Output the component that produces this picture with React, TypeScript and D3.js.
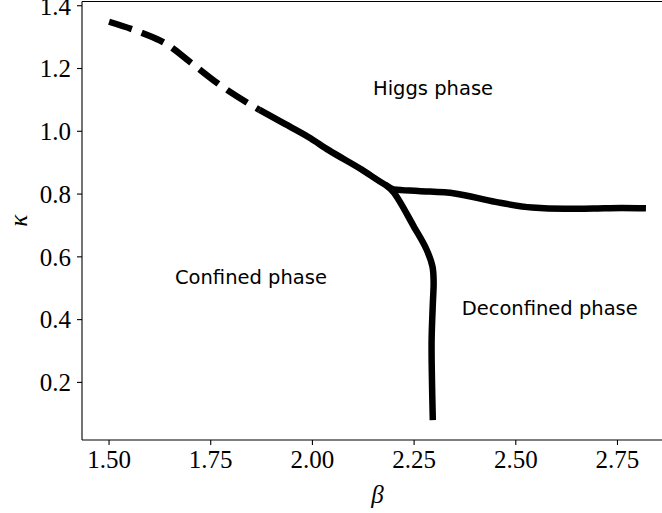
import * as d3 from "d3";

// phase boundary
const dashedBeta = [1.5, 1.58, 1.64, 1.7, 1.77, 1.84, 1.87];
const dashedKappa = [1.349, 1.314, 1.279, 1.22, 1.15, 1.091, 1.068];

const upperBeta = [1.87, 1.93, 1.99, 2.04, 2.12, 2.18, 2.2, 2.26, 2.35, 2.45, 2.54, 2.62, 2.69, 2.76, 2.82];
const upperKappa = [1.068, 1.025, 0.982, 0.94, 0.879, 0.829, 0.815, 0.81, 0.802, 0.775, 0.757, 0.753, 0.754, 0.756, 0.755];

const verticalBeta = [2.18, 2.2, 2.25, 2.28, 2.295, 2.298, 2.296, 2.293, 2.294, 2.296];
const verticalKappa = [0.829, 0.805, 0.695, 0.625, 0.57, 0.52, 0.45, 0.33, 0.2, 0.08];

const xTicks = [1.5, 1.75, 2.0, 2.25, 2.5, 2.75];
const yTicks = [0.2, 0.4, 0.6, 0.8, 1.0, 1.2, 1.4];

const phaseLabels = ["Higgs phase", "Confined phase", "Deconfined phase"];
const labelBeta = [2.149, 1.662, 2.367];
const labelKappa = [1.115, 0.513, 0.414];

export default function App() {
  const width = 662;
  const height = 513;
  const left = 82;
  const right = 673;
  const top = 1.5;
  const bottom = 440;

  const x = d3.scaleLinear([1.4335, 2.8865], [left, right]);
  const y = d3.scaleLinear([0.0165, 1.4135], [bottom, top]);

  const smoothX = d3
    .line<[number, number]>()
    .x((d) => x(d[0]))
    .y((d) => y(d[1]))
    .curve(d3.curveMonotoneX);

  const smooth = d3
    .line<[number, number]>()
    .x((d) => x(d[0]))
    .y((d) => y(d[1]))
    .curve(d3.curveCatmullRom.alpha(0.5));

  const zip = (a: number[], b: number[]) => a.map((v, i) => [v, b[i]] as [number, number]);

  const serif = "'Liberation Serif', 'DejaVu Serif', serif";
  const sans = "'DejaVu Sans', sans-serif";
  const lw = 6.5;

  return (
    <div style={{ position: "absolute", left: 0, top: 0 }}>
      <svg width={width} height={height} style={{ display: "block", background: "#fff" }}>
        <g fill="none" stroke="#000" strokeWidth={lw} strokeLinecap="butt" strokeLinejoin="round">
          <path d={smoothX(zip(dashedBeta, dashedKappa)) ?? ""} strokeDasharray="24 10.4" />
          <path d={smoothX(zip(upperBeta, upperKappa)) ?? ""} />
          <path d={smooth(zip(verticalBeta, verticalKappa)) ?? ""} />
        </g>

        {/* spines */}
        <g stroke="#000" strokeWidth={1.1} fill="none">
          <line x1={left} x2={left} y1={top} y2={bottom} />
          <line x1={left} x2={right} y1={bottom} y2={bottom} />
          <line x1={left} x2={right} y1={top} y2={top} />
          <line x1={right} x2={right} y1={top} y2={bottom} />
        </g>

        <g fontFamily={serif} fontSize={25} fill="#000">
          {xTicks.map((t) => (
            <g key={t}>
              <line x1={x(t)} x2={x(t)} y1={bottom} y2={bottom + 5} stroke="#000" strokeWidth={1.1} />
              <text x={x(t)} y={bottom + 28} textAnchor="middle">
                {t.toFixed(2)}
              </text>
            </g>
          ))}
          {yTicks.map((t) => (
            <g key={t}>
              <line x1={left - 5} x2={left} y1={y(t)} y2={y(t)} stroke="#000" strokeWidth={1.1} />
              <text x={left - 11} y={y(t)} dy="0.35em" textAnchor="end">
                {t.toFixed(1)}
              </text>
            </g>
          ))}
          <text x={(left + right) / 2} y={503} textAnchor="middle" fontStyle="italic">
            β
          </text>
          <text
            transform={`translate(27,${(top + bottom) / 2}) rotate(-90)`}
            textAnchor="middle"
            fontStyle="italic"
          >
            κ
          </text>
        </g>

        <g fontFamily={sans} fontSize={19.5} fill="#000">
          {phaseLabels.map((s, i) => (
            <text key={s} x={x(labelBeta[i])} y={y(labelKappa[i])}>
              {s}
            </text>
          ))}
        </g>
      </svg>
    </div>
  );
}
